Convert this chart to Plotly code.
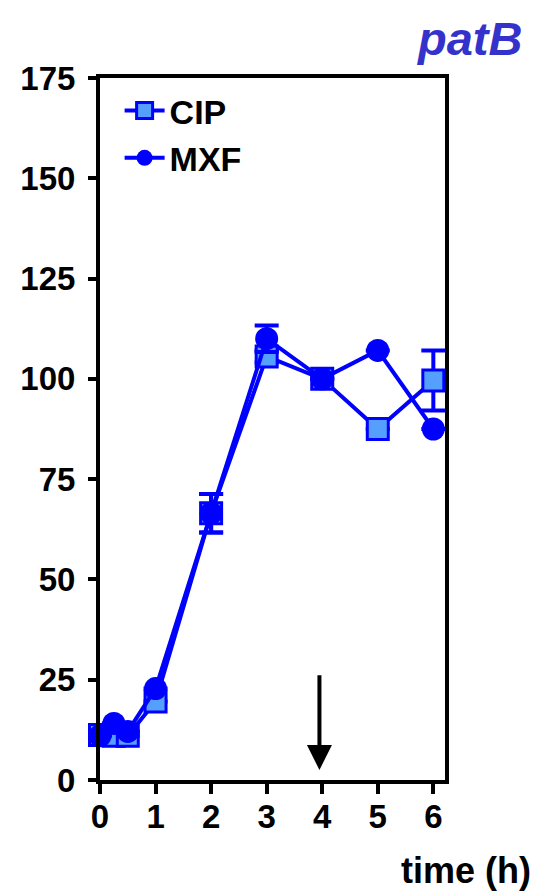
import plotly.graph_objects as go

# Data
time_cip = [0, 0.25, 0.5, 1, 2, 3, 4, 5, 6]
cip = [11.2, 11.0, 11.0, 19.6, 66.5, 105.6, 100, 87.5, 99.6]
cip_err = [0, 0, 0, 0, 4.8, 1.5, 0, 0, 7.5]

time_mxf = [0, 0.25, 0.5, 1, 2, 3, 4, 5, 6]
mxf = [11.0, 14.1, 12.1, 22.8, 66.5, 110.0, 100, 107.1, 87.5]
mxf_err = [0, 0, 0, 0, 4.8, 3.3, 0, 0, 0]

y_ticks = [0, 25, 50, 75, 100, 125, 150, 175]
x_ticks = [0, 1, 2, 3, 4, 5, 6]

arrow_x = 3.95
arrow_tip = 2.5
arrow_tail = 26.5

BLUE = "#0000FF"
LIGHT = "#55A0FF"
FONT = "Liberation Sans"

# page body has an 8px margin, so the figure is slightly smaller than the window
OFF = 8
W, H = 543 - OFF, 891 - OFF
L, T = 85, 70
R = W - 437
B = H - 772
PW, PH = W - L - R, H - T - B


def px(xv):
    return (xv - OFF - L) / PW


def py(yv):
    return 1 - (yv - OFF - T) / PH


fig = go.Figure()
fig.add_trace(go.Scatter(
    x=time_cip, y=cip, name="CIP", mode="lines+markers",
    line=dict(color=BLUE, width=4),
    marker=dict(symbol="square", size=21, color=LIGHT, line=dict(color=BLUE, width=3)),
    error_y=dict(type="data", array=cip_err, visible=True, color=BLUE, thickness=4, width=12),
    cliponaxis=False,
))
fig.add_trace(go.Scatter(
    x=time_mxf, y=mxf, name="MXF", mode="lines+markers",
    line=dict(color=BLUE, width=4),
    marker=dict(symbol="circle", size=23, color=BLUE, line=dict(width=0)),
    error_y=dict(type="data", array=mxf_err, visible=True, color=BLUE, thickness=4, width=12),
    cliponaxis=False,
))

fig.add_annotation(
    x=arrow_x, y=arrow_tip, ax=arrow_x, ay=arrow_tail,
    xref="x", yref="y", axref="x", ayref="y",
    showarrow=True, arrowhead=2, arrowwidth=4, arrowsize=1.25, arrowcolor="black", text="",
)
fig.add_annotation(
    x=px(526), y=py(38), xref="paper", yref="paper", text="patB", showarrow=False,
    font=dict(family=FONT, size=47, color="#3333CC", weight="bold", style="italic"),
    xanchor="right", yanchor="middle",
)
fig.add_annotation(
    x=px(535), y=py(870), xref="paper", yref="paper", text="time (h)", showarrow=False,
    font=dict(family=FONT, size=36, color="black", weight="bold"),
    xanchor="right", yanchor="middle",
)

fig.update_layout(
    width=W, height=H,
    margin=dict(l=L, r=R, t=T, b=B, pad=0),
    paper_bgcolor="white", plot_bgcolor="white",
    font=dict(family=FONT, color="black"),
    showlegend=True,
    legend=dict(
        x=px(113), y=py(82), xanchor="left", yanchor="top",
        font=dict(family=FONT, size=34, color="black", weight="bold"),
        bgcolor="rgba(0,0,0,0)", tracegroupgap=0, itemwidth=40,
    ),
    xaxis=dict(
        range=[0, 6.21], tickvals=x_ticks, ticktext=[str(v) for v in x_ticks],
        showgrid=False, zeroline=False, showline=True, linecolor="black", linewidth=4,
        mirror=True, ticks="outside", ticklen=10, tickwidth=4, tickcolor="black",
        tickfont=dict(family=FONT, size=33, color="black", weight="bold"),
        layer="above traces", ticklabelstandoff=-6,
    ),
    yaxis=dict(
        range=[0, 175], tickvals=y_ticks, ticktext=[str(v) for v in y_ticks],
        showgrid=False, zeroline=False, showline=True, linecolor="black", linewidth=4,
        mirror=True, ticks="outside", ticklen=8, tickwidth=4, tickcolor="black",
        tickfont=dict(family=FONT, size=33, color="black", weight="bold"),
        layer="above traces", ticklabelstandoff=6,
    ),
)

fig.write_html("out.html")
